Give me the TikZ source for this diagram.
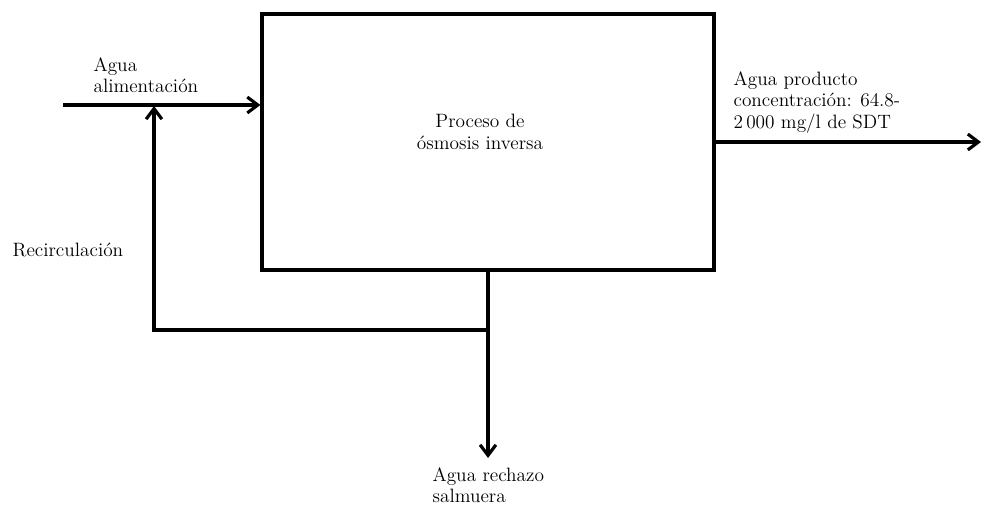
\documentclass[tikz,border=0pt]{standalone}
\usetikzlibrary{arrows.meta}
\begin{document}
\begin{tikzpicture}[x=0.02cm,y=-0.02cm,->,>={Straight Barb[length=6pt,width=9pt]},line width=1.8pt,
    box node/.style={draw,minimum width=9.04cm,minimum height=5.12cm,inner sep=0pt},
    text node/.style={inner sep=0pt,align=left,font=\fontsize{11}{12.3}\selectfont}]

            \useasboundingbox (0,0) rectangle (982,506);

            \node[box node] (proceso) at (488,142) {};

            \node[text node, align=center, anchor=north] (tproceso) at (480,113) {Proceso de\\ósmosis inversa};
            \node[text node, anchor=north west] (talim) at (92,56) {Agua\\alimentación};
            \node[text node, anchor=north west] (tprod) at (732,70) {Agua producto\\concentración: 64.8-\\2\,000 mg/l de SDT};
            \node[text node, anchor=base west] (trecirc) at (11,256) {Recirculación};
            \node[text node, anchor=north west] (trech) at (431,466) {Agua rechazo\\salmuera};

            \coordinate (inicio) at (63,105);
            \coordinate (salida) at (981,142);
            \coordinate (union) at (488,330);
            \coordinate (esquina) at (154,330);
            \coordinate (retorno) at (154,106);
            \coordinate (rechazo) at (488,458);

            \draw[->] (inicio) to (inicio -| proceso.west);
            \draw[->] (proceso.east) to (salida);
            \draw[-] (proceso.south) to (union);
            \draw[->] (union) to (rechazo);
            \draw[->] (union) -- (esquina) -- (retorno);

            ;
        \end{tikzpicture}
\end{document}
